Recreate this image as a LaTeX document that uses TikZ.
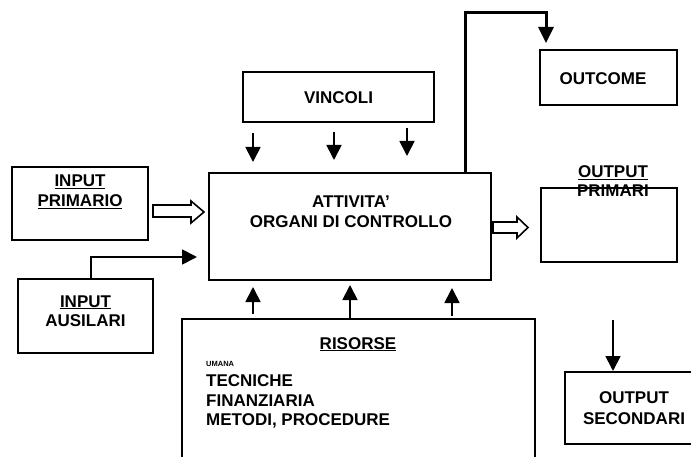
\documentclass[tikz,border=0pt]{standalone}
\usepackage{fontspec}
\setmainfont{Liberation Sans}[BoldFont={Liberation Sans Bold}]
\usetikzlibrary{arrows.meta}

\begin{document}
\begin{tikzpicture}[x=1pt,y=-1pt,
  box/.style={draw, line width=2pt, inner sep=0, rectangle},
  txt/.style={font=\fontsize{17}{20}\selectfont\bfseries, inner sep=0, anchor=base},
  tiny/.style={font=\fontsize{7.5}{9}\selectfont\bfseries, inner sep=0, anchor=base west},
  arr/.style={line width=1.8pt, -{Triangle[length=15pt,width=15pt]}},
  thickarr/.style={line width=3pt, -{Triangle[length=16pt,width=15pt]}},
  hollow/.style={draw, line width=1.6pt, line join=miter, fill=white}
]
\useasboundingbox (0,0) rectangle (691,457);

% boxes
\node[box, minimum width=136pt, minimum height=73pt] (inprim) at (80,203.5) {};
\node[box, minimum width=135pt, minimum height=74pt] (inaus) at (85.5,316) {};
\node[box, minimum width=191pt, minimum height=50pt] (vincoli) at (338.5,97) {};
\node[box, minimum width=282pt, minimum height=107pt] (attiv) at (350,226.5) {};
\node[box, minimum width=137pt, minimum height=55pt] (outcome) at (608.5,77.5) {};
\node[box, minimum width=136pt, minimum height=74pt] (outprim) at (609,225) {};
\node[box, minimum width=353pt, minimum height=161pt] (risorse) at (358.5,399.5) {};
\node[box, minimum width=152pt, minimum height=72pt] (outsec) at (641,408) {};

% texts
\node[txt] (tInprimA) at (80,187) {\underline{INPUT}};
\node[txt] (tInprimB) at (80,207) {\underline{PRIMARIO}};
\node[txt] (tInausA) at (85.5,307) {\underline{INPUT}};
\node[txt] (tInausB) at (85.5,326) {AUSILARI};
\node[txt] (tVincoli) at (338.5,104) {VINCOLI};
\node[txt] (tAttA) at (351,208) {ATTIVITA’};
\node[txt] (tAttB) at (351,228) {ORGANI DI CONTROLLO};
\node[txt] (tOutcome) at (603,85) {OUTCOME};
\node[txt] (tOutprimA) at (613,178) {\underline{OUTPUT}};
\node[txt] (tOutprimB) at (613,197) {PRIMARI};
\node[txt] (tRisorse) at (358,349) {\underline{RISORSE}};
\node[tiny] (tUmana) at (206,366) {UMANA};
\node[txt, anchor=base west] (tTec) at (206,386) {TECNICHE};
\node[txt, anchor=base west] (tFin) at (206,406) {FINANZIARIA};
\node[txt, anchor=base west] (tMet) at (206,425) {METODI, PROCEDURE};
\node[txt] (tOutsecA) at (634,403) {OUTPUT};
\node[txt] (tOutsecB) at (634,424) {SECONDARI};

% hollow flow arrows
\draw[hollow] (153,205) -- (191,205) -- (191,201) -- (204,212)
  -- (191,223) -- (191,217) -- (153,217) -- cycle;
\draw[hollow] (493,222) -- (517,222) -- (517,217) -- (528,227.5)
  -- (517,238) -- (517,233) -- (493,233) -- cycle;

% auxiliary input
\coordinate (ausX) at (91,0);
\coordinate (ausTip) at (197,257);
\draw[arr] (inaus.north -| ausX) |- (ausTip);

% constraints
\coordinate (v1s) at (253,133); \coordinate (v1e) at (253,162);
\coordinate (v2s) at (334,132); \coordinate (v2e) at (334,160);
\coordinate (v3s) at (407,128); \coordinate (v3e) at (407,156);
\draw[arr] (v1s) -- (v1e);
\draw[arr] (v2s) -- (v2e);
\draw[arr] (v3s) -- (v3e);

% resources
\coordinate (r1s) at (253,314); \coordinate (r1e) at (253,287);
\coordinate (r3s) at (452,316); \coordinate (r3e) at (452,288);
\coordinate (r2e) at (350,285);
\draw[arr] (r1s) -- (r1e);
\draw[arr] (risorse.north -| r2e) -- (r2e);
\draw[arr] (r3s) -- (r3e);

% outcome feedback
\coordinate (ocX) at (465,0);
\coordinate (ocTop) at (546,13);
\coordinate (ocTip) at (546,43);
\draw[thickarr] (attiv.north -| ocX) |- (ocTop) -- (ocTip);

% secondary output
\coordinate (osS) at (613,320);
\draw[arr] (osS) -- (outsec.north -| osS);

\end{tikzpicture}
\end{document}
